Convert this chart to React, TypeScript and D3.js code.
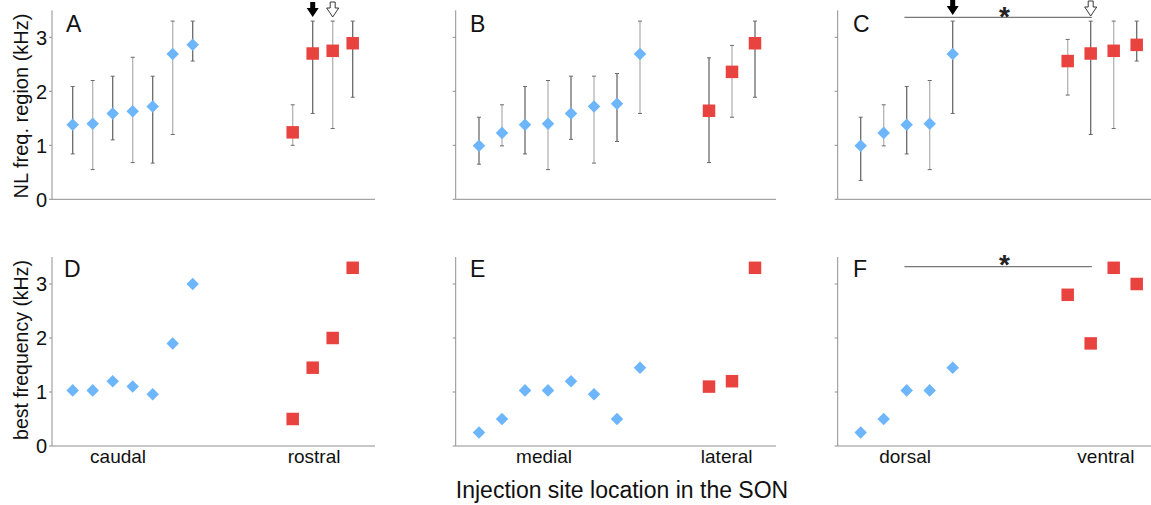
import React from "react";
import * as d3 from "d3";

// ---------- DATA ----------
// Panel A (caudal -> rostral), NL freq. region (kHz): mean, lower, upper
const aBlueMean = [1.38, 1.40, 1.59, 1.63, 1.72, 2.69, 2.86];
const aBlueLow = [0.84, 0.55, 1.10, 0.68, 0.67, 1.20, 2.56];
const aBlueHigh = [2.09, 2.20, 2.28, 2.63, 2.28, 3.30, 3.30];
const aRedMean = [1.24, 2.70, 2.75, 2.89];
const aRedLow = [1.00, 1.59, 1.31, 1.89];
const aRedHigh = [1.75, 3.30, 3.30, 3.30];

// Panel B (medial -> lateral)
const bBlueMean = [0.99, 1.23, 1.38, 1.40, 1.59, 1.72, 1.77, 2.69];
const bBlueLow = [0.65, 0.99, 0.84, 0.55, 1.11, 0.67, 1.07, 1.59];
const bBlueHigh = [1.52, 1.75, 2.09, 2.20, 2.28, 2.28, 2.33, 3.30];
const bRedMean = [1.64, 2.36, 2.89];
const bRedLow = [0.68, 1.52, 1.89];
const bRedHigh = [2.62, 2.85, 3.30];

// Panel C (dorsal -> ventral)
const cBlueMean = [0.99, 1.23, 1.38, 1.40, 2.69];
const cBlueLow = [0.35, 0.99, 0.84, 0.55, 1.59];
const cBlueHigh = [1.52, 1.75, 2.09, 2.20, 3.30];
const cRedMean = [2.56, 2.70, 2.75, 2.86];
const cRedLow = [1.93, 1.20, 1.31, 2.56];
const cRedHigh = [2.96, 3.30, 3.30, 3.30];

// Panels D, E, F: best frequency (kHz)
const dBlue = [1.03, 1.03, 1.20, 1.10, 0.96, 1.90, 3.00];
const dRed = [0.50, 1.45, 2.00, 3.30];
const eBlue = [0.25, 0.50, 1.03, 1.03, 1.20, 0.96, 0.50, 1.45];
const eRed = [1.10, 1.20, 3.30];
const fBlue = [0.25, 0.50, 1.03, 1.03, 1.45];
const fRed = [2.80, 1.90, 3.30, 3.00];

// slot positions along each x axis
const abBlueSlots = [0, 1, 2, 3, 4, 5, 6];
const adRedSlots = [11, 12, 13, 14];
const beBlueSlots = [0, 1, 2, 3, 4, 5, 6, 7];
const beRedSlots = [10, 11, 12];
const cfBlueSlots = [0, 1, 2, 3, 4];
const cfRedSlots = [9, 10, 11, 12];

const yTicks = [0, 1, 2, 3];
const panelLetters = ["A", "B", "C", "D", "E", "F"];
const categoryLabels = [["caudal", "rostral"], ["medial", "lateral"], ["dorsal", "ventral"]];
const categorySlots = [[2.27, 12.07], [2.83, 10.77], [1.93, 10.66]];
const topYLabel = "NL freq. region (kHz)";
const bottomYLabel = "best frequency (kHz)";
const xTitle = "Injection site location in the SON";

// ---------- STYLE / LAYOUT ----------
const FONT = "'Liberation Sans', Arial, Helvetica, sans-serif";
const BLUE = "#6db6fb";
const RED = "#e8433f";
const AXIS = "#8f8f8f";
const BAR_DARK = "#6a6a6a";
const BAR_LIGHT = "#b4b4b4";

const cols = [
  { left: 52, right: 375, first: 72.7, step: 20 },
  { left: 455.7, right: 776, first: 479, step: 23 },
  { left: 837.7, right: 1151, first: 860.7, step: 23 },
];
const rows = [
  { y0: 199.3, unit: 54 },
  { y0: 446, unit: 54 },
];

type Err = { slot: number; mean: number; low: number; high: number; red: boolean };

function buildErr(blueSlots: number[], bm: number[], bl: number[], bh: number[], redSlots: number[], rm: number[], rl: number[], rh: number[]): Err[] {
  const out: Err[] = [];
  bm.forEach((m, i) => out.push({ slot: blueSlots[i], mean: m, low: bl[i], high: bh[i], red: false }));
  rm.forEach((m, i) => out.push({ slot: redSlots[i], mean: m, low: rl[i], high: rh[i], red: true }));
  return out;
}
function buildPts(blueSlots: number[], b: number[], redSlots: number[], r: number[]) {
  return [
    ...b.map((v, i) => ({ slot: blueSlots[i], v, red: false })),
    ...r.map((v, i) => ({ slot: redSlots[i], v, red: true })),
  ];
}

const topPanels = [
  buildErr(abBlueSlots, aBlueMean, aBlueLow, aBlueHigh, adRedSlots, aRedMean, aRedLow, aRedHigh),
  buildErr(beBlueSlots, bBlueMean, bBlueLow, bBlueHigh, beRedSlots, bRedMean, bRedLow, bRedHigh),
  buildErr(cfBlueSlots, cBlueMean, cBlueLow, cBlueHigh, cfRedSlots, cRedMean, cRedLow, cRedHigh),
];
const bottomPanels = [
  buildPts(abBlueSlots, dBlue, adRedSlots, dRed),
  buildPts(beBlueSlots, eBlue, beRedSlots, eRed),
  buildPts(cfBlueSlots, fBlue, cfRedSlots, fRed),
];

const diamondPath = d3.symbol().type(d3.symbolDiamond2).size(100)() as string;
const squarePath = d3.symbol().type(d3.symbolSquare).size(156)() as string;

function xScaleFor(c: number) {
  const col = cols[c];
  return d3.scaleLinear().domain([0, 1]).range([col.first, col.first + col.step]);
}
function yScaleFor(r: number) {
  const row = rows[r];
  return d3.scaleLinear().domain([0, 3.5]).range([row.y0, row.y0 - 3.5 * row.unit]);
}

function arrowPath(x: number, tip: number) {
  const hw = 6, sw = 2.5, headH = 9, stemH = 6;
  return `M${x - sw},${tip - headH - stemH} L${x + sw},${tip - headH - stemH} L${x + sw},${tip - headH} L${x + hw},${tip - headH} L${x},${tip} L${x - hw},${tip - headH} L${x - sw},${tip - headH} Z`;
}

function Axes({ c, r }: { c: number; r: number }) {
  const col = cols[c];
  const y = yScaleFor(r);
  const top = y(3.5);
  return (
    <g>
      <line x1={col.left} x2={col.left} y1={top} y2={y(0)} stroke={AXIS} strokeWidth={1} />
      <line x1={col.left} x2={col.right} y1={y(0)} y2={y(0)} stroke={AXIS} strokeWidth={1} />
      {yTicks.map((t) => (
        <g key={t}>
          <line x1={col.left - 3} x2={col.left} y1={y(t)} y2={y(t)} stroke={AXIS} strokeWidth={1} />
          {c === 0 && (
            <text x={col.left - 5} y={y(t)} dy="0.36em" textAnchor="end" fontSize={20} fontFamily={FONT} fill="#111">
              {t}
            </text>
          )}
        </g>
      ))}
    </g>
  );
}

function TopPanel({ c }: { c: number }) {
  const x = xScaleFor(c);
  const y = yScaleFor(0);
  const data = topPanels[c];
  return (
    <g>
      <Axes c={c} r={0} />
      {data.map((d, i) => {
        const col = i % 2 === 0 ? BAR_DARK : BAR_LIGHT;
        const xx = x(d.slot);
        return (
          <g key={"e" + i}>
            <line x1={xx} x2={xx} y1={y(d.low)} y2={y(d.high)} stroke={col} strokeWidth={1.3} />
            <line x1={xx - 2} x2={xx + 2} y1={y(d.low)} y2={y(d.low)} stroke={BAR_DARK} strokeWidth={1} />
            <line x1={xx - 2} x2={xx + 2} y1={y(d.high)} y2={y(d.high)} stroke={BAR_DARK} strokeWidth={1} />
          </g>
        );
      })}
      {data.map((d, i) => (
        <path
          key={"m" + i}
          d={d.red ? squarePath : diamondPath}
          transform={`translate(${x(d.slot)},${y(d.mean)})`}
          fill={d.red ? RED : BLUE}
        />
      ))}
    </g>
  );
}

function BottomPanel({ c }: { c: number }) {
  const x = xScaleFor(c);
  const y = yScaleFor(1);
  const data = bottomPanels[c];
  return (
    <g>
      <Axes c={c} r={1} />
      {data.map((d, i) => (
        <path
          key={"p" + i}
          d={d.red ? squarePath : diamondPath}
          transform={`translate(${x(d.slot)},${y(d.v)})`}
          fill={d.red ? RED : BLUE}
        />
      ))}
      {categoryLabels[c].map((lab, k) => (
        <text key={lab} x={x(categorySlots[c][k])} y={463} textAnchor="middle" fontSize={19} fontFamily={FONT} fill="#111">
          {lab}
        </text>
      ))}
    </g>
  );
}

export default function App() {
  const xA = xScaleFor(0);
  const xC = xScaleFor(2);
  const letterPos = [
    [66, 32], [470, 32], [853, 32],
    [64, 277], [470, 277], [853, 277],
  ];
  return (
    <svg width={1151} height={505} style={{ position: "absolute", left: 0, top: 0, background: "#fff" }}>
      {[0, 1, 2].map((c) => (
        <TopPanel key={"t" + c} c={c} />
      ))}
      {[0, 1, 2].map((c) => (
        <BottomPanel key={"b" + c} c={c} />
      ))}
      {panelLetters.map((L, i) => (
        <text key={L} x={letterPos[i][0]} y={letterPos[i][1]} fontSize={23} fontFamily={FONT} fill="#111">
          {L}
        </text>
      ))}
      {/* y labels */}
      <text transform="translate(28,106) rotate(-90)" textAnchor="middle" fontSize={20} fontFamily={FONT} fill="#111">
        {topYLabel}
      </text>
      <text transform="translate(28,350) rotate(-90)" textAnchor="middle" fontSize={19.5} fontFamily={FONT} fill="#111">
        {bottomYLabel}
      </text>
      <text x={622} y={498} textAnchor="middle" fontSize={23} fontFamily={FONT} fill="#111">
        {xTitle}
      </text>
      {/* arrows in panel A */}
      <path d={arrowPath(xA(12), 17)} fill="#000" />
      <path d={arrowPath(xA(13), 17)} fill="#fff" stroke="#222" strokeWidth={0.9} />
      {/* significance in panel C */}
      <line x1={xC(1.9)} x2={xC(10.05)} y1={17.3} y2={17.3} stroke="#777" strokeWidth={1.3} />
      <text x={xC(6.25)} y={26} textAnchor="middle" fontSize={28} fontWeight="bold" fontFamily={FONT} fill="#222">*</text>
      <path d={arrowPath(xC(4), 15)} fill="#000" />
      <path d={arrowPath(xC(10), 16)} fill="#fff" stroke="#222" strokeWidth={0.9} />
      {/* significance in panel F */}
      <line x1={xC(1.9)} x2={xC(10.05)} y1={266.7} y2={266.7} stroke="#777" strokeWidth={1.3} />
      <text x={xC(6.25)} y={274} textAnchor="middle" fontSize={28} fontWeight="bold" fontFamily={FONT} fill="#222">*</text>
    </svg>
  );
}
